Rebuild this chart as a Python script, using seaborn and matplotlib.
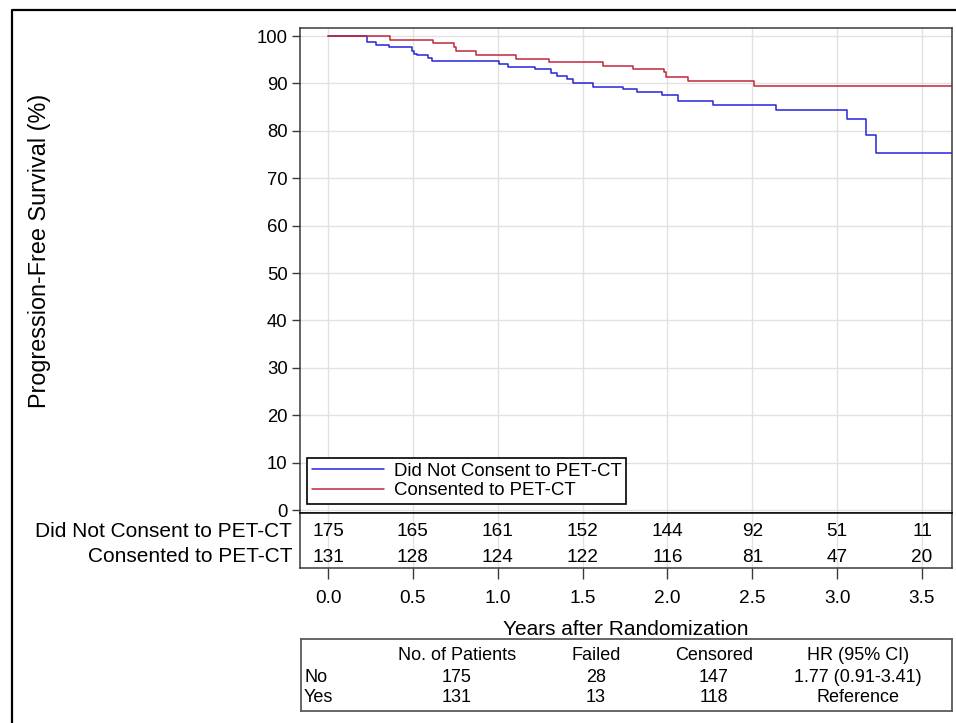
import numpy as np
import pandas as pd
import matplotlib
matplotlib.use("Agg")
import matplotlib.pyplot as plt
from matplotlib.lines import Line2D
import matplotlib.transforms as mtransforms
import seaborn as sns

# Kaplan-Meier step curves (years, % progression-free)
no_consent_t = [0.0, 0.23, 0.28, 0.36, 0.493, 0.507, 0.526, 0.59, 0.61, 1.01,
                1.06, 1.22, 1.314, 1.347, 1.406, 1.446, 1.56, 1.74, 1.82, 1.97,
                2.06, 2.27, 2.64, 3.06, 3.17, 3.23, 3.68]
no_consent_s = [100.0, 98.8, 98.2, 97.6, 96.8, 96.3, 95.9, 95.3, 94.7, 94.0,
                93.5, 93.0, 92.3, 91.6, 90.9, 90.0, 89.3, 88.8, 88.1, 87.6,
                86.4, 85.5, 84.4, 82.6, 79.1, 75.3, 75.3]
consent_t = [0.0, 0.365, 0.62, 0.742, 0.754, 0.87, 1.11, 1.30, 1.62, 1.80,
             1.98, 1.99, 2.12, 2.51, 3.68]
consent_s = [100.0, 99.2, 98.5, 97.6, 96.9, 96.1, 95.1, 94.5, 93.7, 93.0,
             92.4, 91.4, 90.6, 89.4, 89.4]

group_labels = ["Did Not Consent to PET-CT", "Consented to PET-CT"]
group_colors = ["#2424dc", "#c0283c"]

# numbers at risk
risk_times = [0.0, 0.5, 1.0, 1.5, 2.0, 2.5, 3.0, 3.5]
risk_no = [175, 165, 161, 152, 144, 92, 51, 11]
risk_yes = [131, 128, 124, 122, 116, 81, 47, 20]

# summary table
table_header = ["No. of Patients", "Failed", "Censored", "HR (95% CI)"]
table_groups = ["No", "Yes"]
n_patients = [175, 131]
n_failed = [28, 13]
n_censored = [147, 118]
hr_text = ["1.77 (0.91-3.41)", "Reference"]

sns.set_theme(style="white")
plt.rcParams["font.family"] = ["Liberation Sans", "DejaVu Sans"]
plt.rcParams["text.color"] = "black"
plt.rcParams["axes.labelcolor"] = "black"
plt.rcParams["xtick.color"] = "black"
plt.rcParams["ytick.color"] = "black"

W, H = 956, 723


def box(l, t, r, b):
    # pixel box (top-left origin) -> figure fraction rect
    return [l / W, 1 - b / H, (r - l) / W, (b - t) / H]


fig = plt.figure(figsize=(W / 100, H / 100), dpi=100)
ax = fig.add_axes(box(300, 28, 952, 513))
ax_risk = fig.add_axes(box(300, 513, 952, 568), sharex=ax)
ax_tab = fig.add_axes(box(301, 639, 952, 711))

df = pd.concat([
    pd.DataFrame({"years": no_consent_t, "pfs": no_consent_s, "group": group_labels[0]}),
    pd.DataFrame({"years": consent_t, "pfs": consent_s, "group": group_labels[1]}),
])

sns.lineplot(data=df, x="years", y="pfs", hue="group", hue_order=group_labels,
             palette=group_colors, estimator=None, drawstyle="steps-post",
             linewidth=1.1, ax=ax)

edge = "#3a3a3a"
xticks = np.arange(0, 3.51, 0.5)

ax.set_xlim(-0.165, 3.677)
ax.set_ylim(-0.63, 101.7)
ax.set_yticks(np.arange(0, 101, 10))
ax.set_xticks(xticks)
ax.grid(True, color="#e2e2e2", linewidth=1.0)
ax.set_axisbelow(True)
ax.tick_params(axis="y", direction="out", length=6, width=1, color=edge,
               labelsize=13.3, pad=3, left=True, labelcolor="black")
ax.tick_params(axis="x", bottom=False, labelbottom=False)
ax.set_xlabel("")
ax.set_ylabel("")
for sp in ax.spines.values():
    sp.set_color(edge)
    sp.set_linewidth(1.1)

leg = ax.legend(loc="lower left", bbox_to_anchor=(0.0107, 0.0186),
                frameon=True, fancybox=False, edgecolor="black", facecolor="white",
                framealpha=1, fontsize=13.4, handlelength=3.9, handletextpad=0.5,
                borderpad=0.25, labelspacing=0.15, borderaxespad=0)
leg.get_frame().set_linewidth(1.2)
for h in leg.get_lines():
    h.set_linewidth(1.1)
for txt in leg.get_texts():
    txt.set_color("black")

fig.text(40 / W, 1 - 251 / H, "Progression-Free Survival (%)", rotation=90,
         ha="center", va="center", fontsize=16.8)

# numbers-at-risk panel
ax_risk.set_ylim(0, 1)
ax_risk.set_yticks([])
ax_risk.set_xticks(xticks)
ax_risk.set_xticklabels([f"{t:.1f}" for t in xticks])
ax_risk.grid(True, axis="x", color="#e2e2e2", linewidth=1.0)
ax_risk.tick_params(axis="x", direction="out", length=8, width=1, color=edge,
                    labelsize=13.7, pad=8, bottom=True, labelcolor="black")
for sp in ax_risk.spines.values():
    sp.set_color(edge)
    sp.set_linewidth(1.1)
ax_risk.spines["top"].set_color("black")
trans = mtransforms.blended_transform_factory(ax_risk.transData, ax_risk.transAxes)
for row_y, counts in zip([0.655, 0.2], [risk_no, risk_yes]):
    for t, n in zip(risk_times, counts):
        ax_risk.text(t, row_y, str(n), transform=trans, ha="center", va="center",
                     fontsize=13.7)
for row_y, lab in zip([0.655, 0.2], group_labels):
    ax_risk.text(-0.012, row_y, lab, transform=ax_risk.transAxes, ha="right",
                 va="center", fontsize=15)
ax_risk.set_xlabel("Years after Randomization", fontsize=15, labelpad=9,
                   color="black")

# summary table
ax_tab.set_xlim(301, 952)
ax_tab.set_ylim(711, 639)
ax_tab.set_xticks([])
ax_tab.set_yticks([])
for sp in ax_tab.spines.values():
    sp.set_color("#5a5a5a")
    sp.set_linewidth(1.3)
col_x = [457, 596, 714, 858]
row_y = [655, 677, 698]
for cx, head in zip(col_x, table_header):
    ax_tab.text(cx, row_y[0], head, ha="center", va="center", fontsize=13)
for i, g in enumerate(table_groups):
    ry = row_y[i + 1]
    ax_tab.text(304, ry, g, ha="left", va="center", fontsize=13)
    vals = [str(n_patients[i]), str(n_failed[i]), str(n_censored[i]), hr_text[i]]
    for cx, v in zip(col_x, vals):
        ax_tab.text(cx, ry, v, ha="center", va="center", fontsize=13)

# outer frame (left and top edges only)
fig.add_artist(Line2D([12 / W, 12 / W, 1.0], [0.0, 1 - 10 / H, 1 - 10 / H],
                      transform=fig.transFigure, color="black", linewidth=1.6))

fig.savefig("out.png", dpi=100)
